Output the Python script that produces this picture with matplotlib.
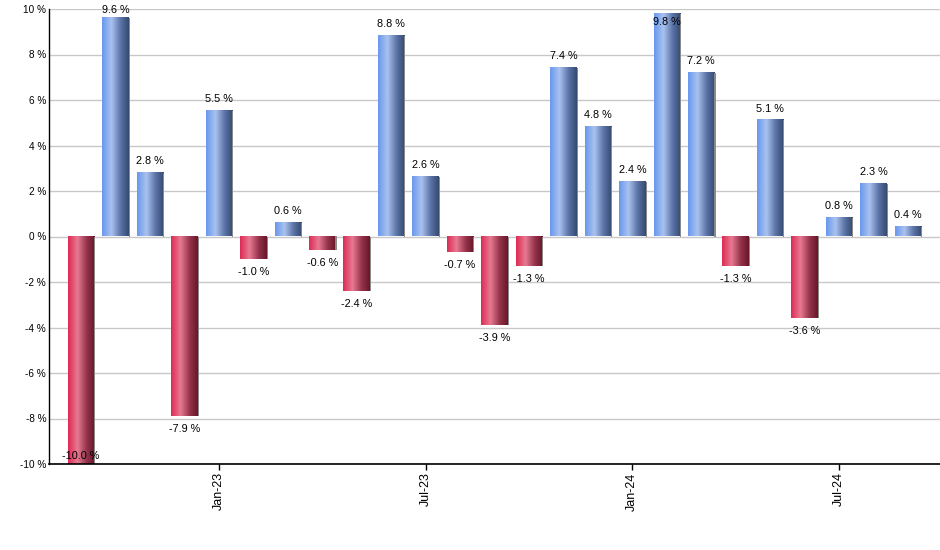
import matplotlib
matplotlib.use("Agg")
import matplotlib.pyplot as plt
import numpy as np
from matplotlib.colors import LinearSegmentedColormap
from matplotlib.patches import Rectangle

months = ["Sep-22", "Oct-22", "Nov-22", "Dec-22", "Jan-23", "Feb-23", "Mar-23", "Apr-23",
          "May-23", "Jun-23", "Jul-23", "Aug-23", "Sep-23", "Oct-23", "Nov-23", "Dec-23",
          "Jan-24", "Feb-24", "Mar-24", "Apr-24", "May-24", "Jun-24", "Jul-24", "Aug-24", "Sep-24"]
values = [-10.0, 9.6, 2.8, -7.9, 5.5, -1.0, 0.6, -0.6, -2.4, 8.8, 2.6, -0.7, -3.9, -1.3,
          7.4, 4.8, 2.4, 9.8, 7.2, -1.3, 5.1, -3.6, 0.8, 2.3, 0.4]
tick_labels = ["Jan-23", "Jul-23", "Jan-24", "Jul-24"]
yticks = [-10, -8, -6, -4, -2, 0, 2, 4, 6, 8, 10]

plt.rcParams['font.family'] = ['Liberation Sans', 'DejaVu Sans']

fig = plt.figure(figsize=(9.4, 5.5), dpi=100)
ax = fig.add_axes([49/940, 86/550, 891/940, 455/550])

blue_cmap = LinearSegmentedColormap.from_list(
    "b", [(0, "#6a98ee"), (0.35, "#a9c2ee"), (0.7, "#5a73a6"), (1, "#364a70")])
red_cmap = LinearSegmentedColormap.from_list(
    "r", [(0, "#dc2c55"), (0.35, "#e87a92"), (0.7, "#94344c"), (1, "#6a1628")])

grad = np.linspace(0, 1, 64).reshape(1, -1)
width = 0.77
x = np.arange(len(values))

for i, v in enumerate(values):
    x0 = x[i] - width / 2
    cmap = blue_cmap if v >= 0 else red_cmap
    y0, y1 = (0, v) if v >= 0 else (v, 0)
    ax.imshow(grad, cmap=cmap, aspect='auto', extent=(x0, x0 + width, y0, y1),
              interpolation='bilinear', zorder=3)
    ax.add_patch(Rectangle((x0 + width, y0), 0.03, y1 - y0, color="#8a8a8a", lw=0, zorder=3))

fs = 7.8
for i, v in enumerate(values):
    txt = f"{v:.1f} %"
    if v >= 0:
        if v > 9.7:
            ax.annotate(txt, (x[i], 10), xytext=(0, -5.5), textcoords='offset points',
                        ha='center', va='top', fontsize=fs, zorder=5)
        elif v > 9.2:
            # clamped to the top of the chart area
            ax.annotate(txt, (x[i], 10), xytext=(0, 3), textcoords='offset points',
                        ha='center', va='top', fontsize=fs, zorder=5)
        else:
            ax.annotate(txt, (x[i], v), xytext=(0, 5), textcoords='offset points',
                        ha='center', va='bottom', fontsize=fs, zorder=5)
    else:
        if v < -9.3:
            ax.annotate(txt, (x[i], -10), xytext=(0, 2), textcoords='offset points',
                        ha='center', va='bottom', fontsize=fs, zorder=5)
        else:
            ax.annotate(txt, (x[i], v), xytext=(0, -5.5), textcoords='offset points',
                        ha='center', va='top', fontsize=fs, zorder=5)

ax.set_xlim(-0.93, len(values) - 1 + 0.93)
ax.set_ylim(-10, 10)
ax.set_yticks(yticks)
ax.set_yticklabels([f"{t} %" for t in yticks], fontsize=7.2)
ax.yaxis.grid(True, color="#c8c8c8", lw=1, zorder=0)
ax.set_axisbelow(True)
ax.tick_params(axis='y', length=0, pad=2)

tpos = [months.index(t) for t in tick_labels]
ax.set_xticks(tpos)
ax.set_xticklabels(tick_labels, rotation=90, fontsize=9)
ax.tick_params(axis='x', length=4, width=1, direction='out', pad=2)

for s in ['top', 'right']:
    ax.spines[s].set_visible(False)
ax.spines['left'].set_linewidth(1)
ax.spines['bottom'].set_linewidth(1.2)
ax.spines['left'].set_zorder(6)
ax.spines['bottom'].set_zorder(6)

fig.savefig("out.png", dpi=100)
